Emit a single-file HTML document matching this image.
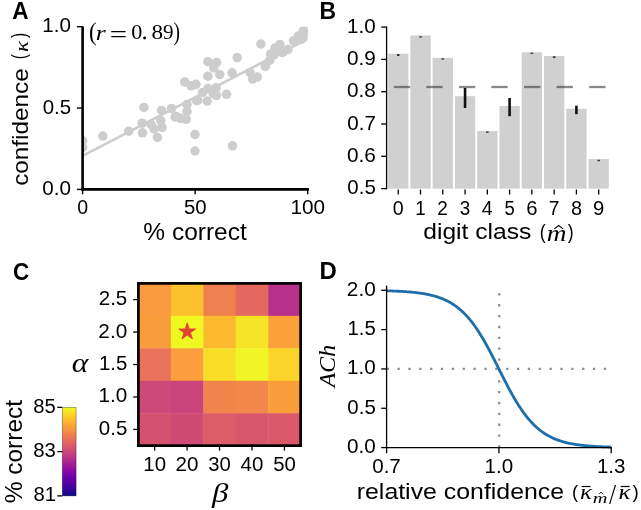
<!DOCTYPE html>
<html><head><meta charset="utf-8"><style>
html,body{margin:0;padding:0;background:#fff;}
svg{display:block;will-change:transform;}
text{font-kerning:none;}
</style></head><body>
<svg width="641" height="510" viewBox="0 0 641 510">
<rect width="641" height="510" fill="#fff"/>
<text transform="translate(12.34,18.90) scale(0.9803,1)" font-size="23.11" fill="#000"><tspan font-family="Liberation Sans, sans-serif" font-weight="bold" font-style="normal">A</tspan></text>
<defs><clipPath id="clipA"><rect x="82.6" y="26.7" width="225.1" height="162.7"/></clipPath></defs>
<g clip-path="url(#clipA)">
<line x1="82.60" y1="155.90" x2="307.70" y2="38.90" stroke="#cdcdcd" stroke-width="2.6" />
<g fill="#cdcdcd">
<circle cx="82.6" cy="140.6" r="4.75"/>
<circle cx="82.6" cy="147.5" r="4.75"/>
<circle cx="102.8" cy="136.1" r="4.75"/>
<circle cx="128.8" cy="131.2" r="4.75"/>
<circle cx="143.9" cy="107.4" r="4.75"/>
<circle cx="142.2" cy="123.2" r="4.75"/>
<circle cx="142.5" cy="132.8" r="4.75"/>
<circle cx="157.4" cy="137.5" r="4.75"/>
<circle cx="151.0" cy="124.3" r="4.75"/>
<circle cx="154.1" cy="129.0" r="4.75"/>
<circle cx="160.8" cy="120.8" r="4.75"/>
<circle cx="162.0" cy="127.5" r="4.75"/>
<circle cx="161.6" cy="110.4" r="4.75"/>
<circle cx="171.5" cy="108.5" r="4.75"/>
<circle cx="176.0" cy="116.5" r="4.75"/>
<circle cx="175.2" cy="117.0" r="4.75"/>
<circle cx="187.0" cy="104.4" r="4.75"/>
<circle cx="187.0" cy="111.5" r="4.75"/>
<circle cx="186.2" cy="119.3" r="4.75"/>
<circle cx="184.7" cy="81.9" r="4.75"/>
<circle cx="191.1" cy="85.8" r="4.75"/>
<circle cx="196.0" cy="84.3" r="4.75"/>
<circle cx="207.9" cy="61.7" r="4.75"/>
<circle cx="216.6" cy="62.5" r="4.75"/>
<circle cx="213.8" cy="67.9" r="4.75"/>
<circle cx="219.7" cy="74.6" r="4.75"/>
<circle cx="207.9" cy="76.2" r="4.75"/>
<circle cx="232.1" cy="72.8" r="4.75"/>
<circle cx="237.2" cy="57.6" r="4.75"/>
<circle cx="207.9" cy="88.6" r="4.75"/>
<circle cx="202.5" cy="92.5" r="4.75"/>
<circle cx="197.8" cy="100.3" r="4.75"/>
<circle cx="207.2" cy="101.1" r="4.75"/>
<circle cx="216.5" cy="95.6" r="4.75"/>
<circle cx="226.6" cy="94.3" r="4.75"/>
<circle cx="196.4" cy="100.5" r="4.75"/>
<circle cx="213.1" cy="93.6" r="4.75"/>
<circle cx="216.1" cy="87.7" r="4.75"/>
<circle cx="195.0" cy="134.5" r="4.75"/>
<circle cx="195.0" cy="151.0" r="4.75"/>
<circle cx="232.5" cy="145.8" r="4.75"/>
<circle cx="260.9" cy="44.0" r="4.75"/>
<circle cx="252.6" cy="79.1" r="4.75"/>
<circle cx="257.4" cy="77.1" r="4.75"/>
<circle cx="250.0" cy="72.5" r="4.75"/>
<circle cx="265.3" cy="66.5" r="4.75"/>
<circle cx="269.7" cy="60.3" r="4.75"/>
<circle cx="270.6" cy="54.1" r="4.75"/>
<circle cx="275.0" cy="48.0" r="4.75"/>
<circle cx="279.9" cy="44.5" r="4.75"/>
<circle cx="282.1" cy="52.4" r="4.75"/>
<circle cx="288.0" cy="49.5" r="4.75"/>
<circle cx="283.3" cy="51.8" r="4.75"/>
<circle cx="273.9" cy="55.0" r="4.75"/>
<circle cx="293.5" cy="40.8" r="4.75"/>
<circle cx="298.2" cy="36.1" r="4.75"/>
<circle cx="303.0" cy="31.4" r="4.75"/>
<circle cx="304.5" cy="29.1" r="4.75"/>
<circle cx="306.0" cy="34.0" r="4.75"/>
<circle cx="180.5" cy="118.3" r="4.75"/>
<circle cx="301.5" cy="39.2" r="4.75"/>
</g></g>
<line x1="82.60" y1="26.40" x2="82.60" y2="190.70" stroke="#000" stroke-width="2.6" />
<line x1="81.30" y1="189.40" x2="308.90" y2="189.40" stroke="#000" stroke-width="2.6" />
<line x1="76.90" y1="189.40" x2="82.60" y2="189.40" stroke="#000" stroke-width="1.4" />
<text transform="translate(42.27,194.90) scale(1.0234,1)" font-size="20.20" fill="#000"><tspan font-family="Liberation Sans, sans-serif" font-weight="normal" font-style="normal">0.0</tspan></text>
<line x1="76.90" y1="108.05" x2="82.60" y2="108.05" stroke="#000" stroke-width="1.4" />
<text transform="translate(42.67,113.55) scale(1.0109,1)" font-size="20.20" fill="#000"><tspan font-family="Liberation Sans, sans-serif" font-weight="normal" font-style="normal">0.5</tspan></text>
<line x1="76.90" y1="26.70" x2="82.60" y2="26.70" stroke="#000" stroke-width="1.4" />
<text transform="translate(42.33,32.20) scale(1.0214,1)" font-size="20.20" fill="#000"><tspan font-family="Liberation Sans, sans-serif" font-weight="normal" font-style="normal">1.0</tspan></text>
<line x1="82.60" y1="189.40" x2="82.60" y2="194.30" stroke="#000" stroke-width="1.4" />
<text transform="translate(77.14,214.30) scale(0.9640,1)" font-size="20.34" fill="#000"><tspan font-family="Liberation Sans, sans-serif" font-weight="normal" font-style="normal">0</tspan></text>
<line x1="195.15" y1="189.40" x2="195.15" y2="194.30" stroke="#000" stroke-width="1.4" />
<text transform="translate(183.94,214.30) scale(0.9992,1)" font-size="20.34" fill="#000"><tspan font-family="Liberation Sans, sans-serif" font-weight="normal" font-style="normal">50</tspan></text>
<line x1="307.70" y1="189.40" x2="307.70" y2="194.30" stroke="#000" stroke-width="1.4" />
<text transform="translate(290.41,214.30) scale(1.0200,1)" font-size="20.34" fill="#000"><tspan font-family="Liberation Sans, sans-serif" font-weight="normal" font-style="normal">100</tspan></text>
<text transform="translate(143.33,240.28) scale(1.0640,1)" font-size="23.02" fill="#000"><tspan font-family="Liberation Sans, sans-serif" font-weight="normal" font-style="normal">% correct</tspan></text>
<g transform="rotate(-90)">
<text transform="translate(-185.83,27.98) scale(1.0757,1)" font-size="22.60" fill="#000"><tspan font-family="Liberation Sans, sans-serif" font-weight="normal" font-style="normal">confidence</tspan></text>
<text transform="translate(-59.26,26.47) scale(0.7745,1)" font-size="19.96" fill="#000"><tspan font-family="Liberation Sans, sans-serif" font-weight="normal" font-style="normal">(</tspan></text>
<text transform="translate(-52.04,27.80) scale(1.1945,1)" font-size="19.17" fill="#000"><tspan font-family="Liberation Serif, serif" font-weight="normal" font-style="italic">κ</tspan></text>
<text transform="translate(-37.99,26.47) scale(0.7745,1)" font-size="19.96" fill="#000"><tspan font-family="Liberation Sans, sans-serif" font-weight="normal" font-style="normal">)</tspan></text>
</g>
<text transform="translate(88.90,39.86) scale(0.9431,1)" font-size="24.15" fill="#000"><tspan font-family="Liberation Serif, serif" font-weight="normal" font-style="normal">(</tspan></text>
<text transform="translate(95.86,39.50) scale(1.1711,1)" font-size="21.86" fill="#000"><tspan font-family="Liberation Serif, serif" font-weight="normal" font-style="italic">r</tspan></text>
<text transform="translate(109.86,41.69) scale(1.3113,1)" font-size="23.60" fill="#000"><tspan font-family="Liberation Serif, serif" font-weight="normal" font-style="normal">=</tspan></text>
<text transform="translate(131.16,39.39) scale(1.0322,1)" font-size="21.49" fill="#000"><tspan font-family="Liberation Serif, serif" font-weight="normal" font-style="normal">0</tspan></text>
<text transform="translate(151.42,39.39) scale(1.0761,1)" font-size="21.49" fill="#000"><tspan font-family="Liberation Serif, serif" font-weight="normal" font-style="normal">8</tspan></text>
<text transform="translate(162.92,39.39) scale(0.9772,1)" font-size="21.58" fill="#000"><tspan font-family="Liberation Serif, serif" font-weight="normal" font-style="normal">9</tspan></text>
<circle cx="144.6" cy="38.0" r="1.45" fill="#000"/>
<text transform="translate(173.57,39.86) scale(0.8060,1)" font-size="24.15" fill="#000"><tspan font-family="Liberation Serif, serif" font-weight="normal" font-style="normal">)</tspan></text>
<text transform="translate(319.56,18.90) scale(0.9871,1)" font-size="23.26" fill="#000"><tspan font-family="Liberation Sans, sans-serif" font-weight="bold" font-style="normal">B</tspan></text>
<rect x="388.10" y="53.7" width="20.3" height="134.90" fill="#d0d0d0"/>
<rect x="410.37" y="35.5" width="20.3" height="153.10" fill="#d0d0d0"/>
<rect x="432.64" y="57.8" width="20.3" height="130.80" fill="#d0d0d0"/>
<rect x="454.91" y="96.2" width="20.3" height="92.40" fill="#d0d0d0"/>
<rect x="477.18" y="131" width="20.3" height="57.60" fill="#d0d0d0"/>
<rect x="499.45" y="106" width="20.3" height="82.60" fill="#d0d0d0"/>
<rect x="521.72" y="52.2" width="20.3" height="136.40" fill="#d0d0d0"/>
<rect x="543.99" y="56" width="20.3" height="132.60" fill="#d0d0d0"/>
<rect x="566.26" y="108.7" width="20.3" height="79.90" fill="#d0d0d0"/>
<rect x="588.53" y="159" width="20.3" height="29.60" fill="#d0d0d0"/>
<line x1="393.90" y1="87.00" x2="410.20" y2="87.00" stroke="#333333" stroke-width="2.3" stroke-opacity="0.58"/>
<line x1="426.30" y1="87.00" x2="442.60" y2="87.00" stroke="#333333" stroke-width="2.3" stroke-opacity="0.58"/>
<line x1="458.90" y1="87.00" x2="475.20" y2="87.00" stroke="#333333" stroke-width="2.3" stroke-opacity="0.58"/>
<line x1="491.40" y1="87.00" x2="507.70" y2="87.00" stroke="#333333" stroke-width="2.3" stroke-opacity="0.58"/>
<line x1="524.00" y1="87.00" x2="540.30" y2="87.00" stroke="#333333" stroke-width="2.3" stroke-opacity="0.58"/>
<line x1="556.60" y1="87.00" x2="572.90" y2="87.00" stroke="#333333" stroke-width="2.3" stroke-opacity="0.58"/>
<line x1="589.20" y1="87.00" x2="605.50" y2="87.00" stroke="#333333" stroke-width="2.3" stroke-opacity="0.58"/>
<line x1="398.25" y1="54.00" x2="398.25" y2="56.00" stroke="#3a3a3a" stroke-width="2.6" />
<line x1="420.52" y1="36.20" x2="420.52" y2="37.60" stroke="#3a3a3a" stroke-width="2.6" />
<line x1="442.79" y1="58.20" x2="442.79" y2="59.60" stroke="#3a3a3a" stroke-width="2.6" />
<line x1="465.06" y1="88.00" x2="465.06" y2="108.00" stroke="#111" stroke-width="2.6" />
<line x1="487.33" y1="131.50" x2="487.33" y2="132.90" stroke="#3a3a3a" stroke-width="2.6" />
<line x1="509.60" y1="98.00" x2="509.60" y2="116.20" stroke="#111" stroke-width="2.6" />
<line x1="531.87" y1="52.60" x2="531.87" y2="54.00" stroke="#3a3a3a" stroke-width="2.6" />
<line x1="554.14" y1="56.20" x2="554.14" y2="58.00" stroke="#3a3a3a" stroke-width="2.6" />
<line x1="576.41" y1="105.70" x2="576.41" y2="114.20" stroke="#111" stroke-width="2.6" />
<line x1="598.68" y1="159.80" x2="598.68" y2="161.20" stroke="#3a3a3a" stroke-width="2.6" />
<line x1="386.60" y1="26.50" x2="386.60" y2="189.20" stroke="#000" stroke-width="1.3" />
<line x1="381.20" y1="188.60" x2="386.60" y2="188.60" stroke="#000" stroke-width="1.3" />
<text transform="translate(347.37,194.10) scale(1.0109,1)" font-size="20.20" fill="#000"><tspan font-family="Liberation Sans, sans-serif" font-weight="normal" font-style="normal">0.5</tspan></text>
<line x1="381.20" y1="156.30" x2="386.60" y2="156.30" stroke="#000" stroke-width="1.3" />
<text transform="translate(346.91,161.80) scale(1.0296,1)" font-size="20.20" fill="#000"><tspan font-family="Liberation Sans, sans-serif" font-weight="normal" font-style="normal">0.6</tspan></text>
<line x1="381.20" y1="124.00" x2="386.60" y2="124.00" stroke="#000" stroke-width="1.3" />
<text transform="translate(347.33,129.50) scale(1.0187,1)" font-size="20.20" fill="#000"><tspan font-family="Liberation Sans, sans-serif" font-weight="normal" font-style="normal">0.7</tspan></text>
<line x1="381.20" y1="91.70" x2="386.60" y2="91.70" stroke="#000" stroke-width="1.3" />
<text transform="translate(347.01,97.20) scale(1.0254,1)" font-size="20.20" fill="#000"><tspan font-family="Liberation Sans, sans-serif" font-weight="normal" font-style="normal">0.8</tspan></text>
<line x1="381.20" y1="59.40" x2="386.60" y2="59.40" stroke="#000" stroke-width="1.3" />
<text transform="translate(347.04,64.90) scale(1.0271,1)" font-size="20.20" fill="#000"><tspan font-family="Liberation Sans, sans-serif" font-weight="normal" font-style="normal">0.9</tspan></text>
<line x1="381.20" y1="27.10" x2="386.60" y2="27.10" stroke="#000" stroke-width="1.3" />
<text transform="translate(347.03,32.60) scale(1.0214,1)" font-size="20.20" fill="#000"><tspan font-family="Liberation Sans, sans-serif" font-weight="normal" font-style="normal">1.0</tspan></text>
<line x1="398.25" y1="189.60" x2="398.25" y2="194.50" stroke="#000" stroke-width="1.3" />
<text transform="translate(392.79,214.50) scale(0.9640,1)" font-size="20.34" fill="#000"><tspan font-family="Liberation Sans, sans-serif" font-weight="normal" font-style="normal">0</tspan></text>
<line x1="420.52" y1="189.60" x2="420.52" y2="194.50" stroke="#000" stroke-width="1.3" />
<text transform="translate(415.22,214.70) scale(0.8947,1)" font-size="20.93" fill="#000"><tspan font-family="Liberation Sans, sans-serif" font-weight="normal" font-style="normal">1</tspan></text>
<line x1="442.79" y1="189.60" x2="442.79" y2="194.50" stroke="#000" stroke-width="1.3" />
<text transform="translate(437.28,214.70) scale(0.9164,1)" font-size="20.62" fill="#000"><tspan font-family="Liberation Sans, sans-serif" font-weight="normal" font-style="normal">2</tspan></text>
<line x1="465.06" y1="189.60" x2="465.06" y2="194.50" stroke="#000" stroke-width="1.3" />
<text transform="translate(459.84,214.50) scale(0.9258,1)" font-size="20.34" fill="#000"><tspan font-family="Liberation Sans, sans-serif" font-weight="normal" font-style="normal">3</tspan></text>
<line x1="487.33" y1="189.60" x2="487.33" y2="194.50" stroke="#000" stroke-width="1.3" />
<text transform="translate(481.87,214.70) scale(0.9369,1)" font-size="20.93" fill="#000"><tspan font-family="Liberation Sans, sans-serif" font-weight="normal" font-style="normal">4</tspan></text>
<line x1="509.60" y1="189.60" x2="509.60" y2="194.50" stroke="#000" stroke-width="1.3" />
<text transform="translate(504.38,214.50) scale(0.8966,1)" font-size="20.64" fill="#000"><tspan font-family="Liberation Sans, sans-serif" font-weight="normal" font-style="normal">5</tspan></text>
<line x1="531.87" y1="189.60" x2="531.87" y2="194.50" stroke="#000" stroke-width="1.3" />
<text transform="translate(526.22,214.50) scale(0.9977,1)" font-size="20.34" fill="#000"><tspan font-family="Liberation Sans, sans-serif" font-weight="normal" font-style="normal">6</tspan></text>
<line x1="554.14" y1="189.60" x2="554.14" y2="194.50" stroke="#000" stroke-width="1.3" />
<text transform="translate(548.77,214.70) scale(0.9163,1)" font-size="20.93" fill="#000"><tspan font-family="Liberation Sans, sans-serif" font-weight="normal" font-style="normal">7</tspan></text>
<line x1="576.41" y1="189.60" x2="576.41" y2="194.50" stroke="#000" stroke-width="1.3" />
<text transform="translate(570.89,214.50) scale(0.9745,1)" font-size="20.34" fill="#000"><tspan font-family="Liberation Sans, sans-serif" font-weight="normal" font-style="normal">8</tspan></text>
<line x1="598.68" y1="189.60" x2="598.68" y2="194.50" stroke="#000" stroke-width="1.3" />
<text transform="translate(592.99,214.50) scale(0.9957,1)" font-size="20.34" fill="#000"><tspan font-family="Liberation Sans, sans-serif" font-weight="normal" font-style="normal">9</tspan></text>
<text transform="translate(423.27,239.49) scale(1.1593,1)" font-size="21.24" fill="#000"><tspan font-family="Liberation Sans, sans-serif" font-weight="normal" font-style="normal">digit class</tspan></text>
<text transform="translate(539.80,238.70) scale(0.8738,1)" font-size="20.29" fill="#000"><tspan font-family="Liberation Sans, sans-serif" font-weight="normal" font-style="normal">(</tspan></text>
<text transform="translate(546.71,240.70) scale(1.2263,1)" font-size="22.28" fill="#000"><tspan font-family="Liberation Serif, serif" font-weight="normal" font-style="italic">m</tspan></text>
<path d="M554.3,228.9 L558.7,225.5 L563.1,228.9" fill="none" stroke="#000" stroke-width="1.1"/>
<text transform="translate(567.80,238.70) scale(0.8738,1)" font-size="20.29" fill="#000"><tspan font-family="Liberation Sans, sans-serif" font-weight="normal" font-style="normal">)</tspan></text>
<text transform="translate(12.98,279.67) scale(0.9532,1)" font-size="23.59" fill="#000"><tspan font-family="Liberation Sans, sans-serif" font-weight="bold" font-style="normal">C</tspan></text>
<rect x="138.40" y="283.40" width="32.85" height="32.85" fill="#f99b3e"/>
<rect x="170.85" y="283.40" width="32.85" height="32.85" fill="#fcc22c"/>
<rect x="203.30" y="283.40" width="32.85" height="32.85" fill="#ee8050"/>
<rect x="235.75" y="283.40" width="32.85" height="32.85" fill="#e4685e"/>
<rect x="268.20" y="283.40" width="32.85" height="32.85" fill="#b7318a"/>
<rect x="138.40" y="315.85" width="32.85" height="32.85" fill="#f99c3c"/>
<rect x="170.85" y="315.85" width="32.85" height="32.85" fill="#f0f822"/>
<rect x="203.30" y="315.85" width="32.85" height="32.85" fill="#fdb92d"/>
<rect x="235.75" y="315.85" width="32.85" height="32.85" fill="#f5e526"/>
<rect x="268.20" y="315.85" width="32.85" height="32.85" fill="#fba13a"/>
<rect x="138.40" y="348.30" width="32.85" height="32.85" fill="#e8735a"/>
<rect x="170.85" y="348.30" width="32.85" height="32.85" fill="#fb9e3b"/>
<rect x="203.30" y="348.30" width="32.85" height="32.85" fill="#f8de27"/>
<rect x="235.75" y="348.30" width="32.85" height="32.85" fill="#f1f525"/>
<rect x="268.20" y="348.30" width="32.85" height="32.85" fill="#fad428"/>
<rect x="138.40" y="380.75" width="32.85" height="32.85" fill="#cd4977"/>
<rect x="170.85" y="380.75" width="32.85" height="32.85" fill="#c9447a"/>
<rect x="203.30" y="380.75" width="32.85" height="32.85" fill="#f0844b"/>
<rect x="235.75" y="380.75" width="32.85" height="32.85" fill="#f28749"/>
<rect x="268.20" y="380.75" width="32.85" height="32.85" fill="#fa9e3b"/>
<rect x="138.40" y="413.20" width="32.85" height="32.85" fill="#d4526f"/>
<rect x="170.85" y="413.20" width="32.85" height="32.85" fill="#cf4b75"/>
<rect x="203.30" y="413.20" width="32.85" height="32.85" fill="#dc5c67"/>
<rect x="235.75" y="413.20" width="32.85" height="32.85" fill="#d8576b"/>
<rect x="268.20" y="413.20" width="32.85" height="32.85" fill="#d9586a"/>
<rect x="138.4" y="283.4" width="162.25" height="162.25" fill="none" stroke="#000" stroke-width="2.7"/>
<polygon points="187.20,322.80 185.20,328.95 178.74,328.95 183.97,332.75 181.97,338.90 187.20,335.10 192.43,338.90 190.43,332.75 195.66,328.95 189.20,328.95" fill="#df4532" stroke="#df4532" stroke-width="0.9" stroke-linejoin="round"/>
<line x1="133.20" y1="299.62" x2="137.10" y2="299.62" stroke="#000" stroke-width="1.3" />
<text transform="translate(98.78,305.13) scale(1.0145,1)" font-size="20.20" fill="#000"><tspan font-family="Liberation Sans, sans-serif" font-weight="normal" font-style="normal">2.5</tspan></text>
<line x1="133.20" y1="332.07" x2="137.10" y2="332.07" stroke="#000" stroke-width="1.3" />
<text transform="translate(98.37,337.58) scale(1.0270,1)" font-size="20.20" fill="#000"><tspan font-family="Liberation Sans, sans-serif" font-weight="normal" font-style="normal">2.0</tspan></text>
<line x1="133.20" y1="364.52" x2="137.10" y2="364.52" stroke="#000" stroke-width="1.3" />
<text transform="translate(98.94,370.02) scale(0.9940,1)" font-size="20.49" fill="#000"><tspan font-family="Liberation Sans, sans-serif" font-weight="normal" font-style="normal">1.5</tspan></text>
<line x1="133.20" y1="396.98" x2="137.10" y2="396.98" stroke="#000" stroke-width="1.3" />
<text transform="translate(98.53,402.48) scale(1.0214,1)" font-size="20.20" fill="#000"><tspan font-family="Liberation Sans, sans-serif" font-weight="normal" font-style="normal">1.0</tspan></text>
<line x1="133.20" y1="429.42" x2="137.10" y2="429.42" stroke="#000" stroke-width="1.3" />
<text transform="translate(98.87,434.93) scale(1.0109,1)" font-size="20.20" fill="#000"><tspan font-family="Liberation Sans, sans-serif" font-weight="normal" font-style="normal">0.5</tspan></text>
<line x1="154.62" y1="446.95" x2="154.62" y2="450.60" stroke="#000" stroke-width="1.3" />
<text transform="translate(143.28,470.60) scale(1.0054,1)" font-size="20.34" fill="#000"><tspan font-family="Liberation Sans, sans-serif" font-weight="normal" font-style="normal">10</tspan></text>
<line x1="187.08" y1="446.95" x2="187.08" y2="450.60" stroke="#000" stroke-width="1.3" />
<text transform="translate(175.57,470.60) scale(1.0127,1)" font-size="20.34" fill="#000"><tspan font-family="Liberation Sans, sans-serif" font-weight="normal" font-style="normal">20</tspan></text>
<line x1="219.53" y1="446.95" x2="219.53" y2="450.60" stroke="#000" stroke-width="1.3" />
<text transform="translate(208.33,470.60) scale(0.9982,1)" font-size="20.34" fill="#000"><tspan font-family="Liberation Sans, sans-serif" font-weight="normal" font-style="normal">30</tspan></text>
<line x1="251.98" y1="446.95" x2="251.98" y2="450.60" stroke="#000" stroke-width="1.3" />
<text transform="translate(240.58,470.60) scale(1.0076,1)" font-size="20.34" fill="#000"><tspan font-family="Liberation Sans, sans-serif" font-weight="normal" font-style="normal">40</tspan></text>
<line x1="284.43" y1="446.95" x2="284.43" y2="450.60" stroke="#000" stroke-width="1.3" />
<text transform="translate(273.21,470.60) scale(0.9992,1)" font-size="20.34" fill="#000"><tspan font-family="Liberation Sans, sans-serif" font-weight="normal" font-style="normal">50</tspan></text>
<text transform="translate(71.66,371.62) scale(1.1736,1)" font-size="26.97" fill="#000"><tspan font-family="Liberation Serif, serif" font-weight="normal" font-style="italic">α</tspan></text>
<text transform="translate(211.93,501.53) scale(1.1947,1)" font-size="27.59" fill="#000"><tspan font-family="Liberation Serif, serif" font-weight="normal" font-style="italic">β</tspan></text>
<defs><linearGradient id="plasma" x1="0" y1="1" x2="0" y2="0"><stop offset="0.0" stop-color="#0d0887"/><stop offset="0.1" stop-color="#41049d"/><stop offset="0.2" stop-color="#6a00a8"/><stop offset="0.3" stop-color="#8f0da4"/><stop offset="0.4" stop-color="#b12a90"/><stop offset="0.5" stop-color="#cc4778"/><stop offset="0.6" stop-color="#e16462"/><stop offset="0.7" stop-color="#f2844b"/><stop offset="0.8" stop-color="#fca636"/><stop offset="0.9" stop-color="#fcce25"/><stop offset="1.0" stop-color="#f0f921"/></linearGradient></defs>
<rect x="62.3" y="407.35" width="13.8" height="88.55" fill="url(#plasma)" stroke="#000" stroke-opacity="0.45" stroke-width="0.7"/>
<line x1="57.30" y1="407.35" x2="62.20" y2="407.35" stroke="#000" stroke-width="1.3" />
<text transform="translate(33.34,412.85) scale(1.0019,1)" font-size="20.20" fill="#000"><tspan font-family="Liberation Sans, sans-serif" font-weight="normal" font-style="normal">85</tspan></text>
<line x1="57.30" y1="451.62" x2="62.20" y2="451.62" stroke="#000" stroke-width="1.3" />
<text transform="translate(33.20,457.13) scale(1.0104,1)" font-size="20.20" fill="#000"><tspan font-family="Liberation Sans, sans-serif" font-weight="normal" font-style="normal">83</tspan></text>
<line x1="57.30" y1="495.90" x2="62.20" y2="495.90" stroke="#000" stroke-width="1.3" />
<text transform="translate(33.43,501.40) scale(1.0042,1)" font-size="20.20" fill="#000"><tspan font-family="Liberation Sans, sans-serif" font-weight="normal" font-style="normal">81</tspan></text>
<g transform="rotate(-90)">
<text transform="translate(-503.37,22.37) scale(1.0270,1)" font-size="23.88" fill="#000"><tspan font-family="Liberation Sans, sans-serif" font-weight="normal" font-style="normal">% correct</tspan></text>
</g>
<text transform="translate(319.50,279.10) scale(1.0371,1)" font-size="23.11" fill="#000"><tspan font-family="Liberation Sans, sans-serif" font-weight="bold" font-style="normal">D</tspan></text>
<path d="M386.6,368.95 H611.2" stroke="#8f8f8f" stroke-width="2.3" stroke-dasharray="2.3 8.56" fill="none"/>
<path d="M499.20,447.6 V290.30" stroke="#8f8f8f" stroke-width="2.3" stroke-dasharray="2.3 8.56" fill="none"/>
<polyline points="386.60,290.82 387.54,290.85 388.47,290.88 389.41,290.90 390.34,290.93 391.28,290.96 392.22,291.00 393.15,291.03 394.09,291.07 395.02,291.10 395.96,291.14 396.89,291.18 397.83,291.23 398.77,291.27 399.70,291.32 400.64,291.37 401.57,291.42 402.51,291.47 403.45,291.53 404.38,291.59 405.32,291.65 406.25,291.71 407.19,291.78 408.12,291.85 409.06,291.93 410.00,292.01 410.93,292.09 411.87,292.18 412.80,292.27 413.74,292.36 414.68,292.46 415.61,292.56 416.55,292.67 417.48,292.78 418.42,292.90 419.35,293.03 420.29,293.16 421.23,293.29 422.16,293.44 423.10,293.59 424.03,293.74 424.97,293.91 425.91,294.08 426.84,294.26 427.78,294.44 428.71,294.64 429.65,294.84 430.58,295.06 431.52,295.28 432.46,295.52 433.39,295.76 434.33,296.02 435.26,296.29 436.20,296.57 437.14,296.86 438.07,297.16 439.01,297.48 439.94,297.81 440.88,298.16 441.81,298.52 442.75,298.90 443.69,299.30 444.62,299.71 445.56,300.14 446.49,300.58 447.43,301.05 448.37,301.54 449.30,302.04 450.24,302.57 451.17,303.12 452.11,303.69 453.04,304.28 453.98,304.90 454.92,305.54 455.85,306.20 456.79,306.90 457.72,307.61 458.66,308.36 459.60,309.13 460.53,309.94 461.47,310.77 462.40,311.63 463.34,312.52 464.27,313.44 465.21,314.39 466.15,315.38 467.08,316.40 468.02,317.45 468.95,318.53 469.89,319.65 470.83,320.80 471.76,321.98 472.70,323.20 473.63,324.45 474.57,325.74 475.50,327.06 476.44,328.42 477.38,329.81 478.31,331.23 479.25,332.68 480.18,334.17 481.12,335.69 482.06,337.24 482.99,338.82 483.93,340.42 484.86,342.06 485.80,343.72 486.73,345.41 487.67,347.12 488.61,348.86 489.54,350.61 490.48,352.39 491.41,354.18 492.35,355.99 493.28,357.82 494.22,359.65 495.16,361.50 496.09,363.36 497.03,365.22 497.96,367.08 498.90,368.95 499.84,370.82 500.77,372.68 501.71,374.54 502.64,376.40 503.58,378.25 504.51,380.08 505.45,381.91 506.39,383.72 507.32,385.51 508.26,387.29 509.19,389.04 510.13,390.78 511.07,392.49 512.00,394.18 512.94,395.84 513.87,397.48 514.81,399.08 515.75,400.66 516.68,402.21 517.62,403.73 518.55,405.22 519.49,406.67 520.42,408.09 521.36,409.48 522.30,410.84 523.23,412.16 524.17,413.45 525.10,414.70 526.04,415.92 526.98,417.10 527.91,418.25 528.85,419.37 529.78,420.45 530.72,421.50 531.65,422.52 532.59,423.51 533.53,424.46 534.46,425.38 535.40,426.27 536.33,427.13 537.27,427.96 538.21,428.77 539.14,429.54 540.08,430.29 541.01,431.00 541.95,431.70 542.88,432.36 543.82,433.00 544.76,433.62 545.69,434.21 546.63,434.78 547.56,435.33 548.50,435.86 549.43,436.36 550.37,436.85 551.31,437.32 552.24,437.76 553.18,438.19 554.11,438.60 555.05,439.00 555.99,439.38 556.92,439.74 557.86,440.09 558.79,440.42 559.73,440.74 560.67,441.04 561.60,441.33 562.54,441.61 563.47,441.88 564.41,442.14 565.34,442.38 566.28,442.62 567.22,442.84 568.15,443.06 569.09,443.26 570.02,443.46 570.96,443.64 571.89,443.82 572.83,443.99 573.77,444.16 574.70,444.31 575.64,444.46 576.57,444.61 577.51,444.74 578.45,444.87 579.38,445.00 580.32,445.12 581.25,445.23 582.19,445.34 583.13,445.44 584.06,445.54 585.00,445.63 585.93,445.72 586.87,445.81 587.80,445.89 588.74,445.97 589.68,446.05 590.61,446.12 591.55,446.19 592.48,446.25 593.42,446.31 594.36,446.37 595.29,446.43 596.23,446.48 597.16,446.53 598.10,446.58 599.03,446.63 599.97,446.67 600.91,446.72 601.84,446.76 602.78,446.80 603.71,446.83 604.65,446.87 605.59,446.90 606.52,446.94 607.46,446.97 608.39,447.00 609.33,447.02 610.26,447.05 611.20,447.08" fill="none" stroke="#1d6ea9" stroke-width="2.8"/>
<line x1="386.60" y1="285.60" x2="386.60" y2="448.25" stroke="#000" stroke-width="1.3" />
<line x1="385.95" y1="447.60" x2="611.85" y2="447.60" stroke="#000" stroke-width="1.3" />
<line x1="381.20" y1="447.60" x2="386.60" y2="447.60" stroke="#000" stroke-width="1.3" />
<text transform="translate(346.97,453.10) scale(1.0234,1)" font-size="20.20" fill="#000"><tspan font-family="Liberation Sans, sans-serif" font-weight="normal" font-style="normal">0.0</tspan></text>
<line x1="381.20" y1="408.28" x2="386.60" y2="408.28" stroke="#000" stroke-width="1.3" />
<text transform="translate(347.37,413.78) scale(1.0109,1)" font-size="20.20" fill="#000"><tspan font-family="Liberation Sans, sans-serif" font-weight="normal" font-style="normal">0.5</tspan></text>
<line x1="381.20" y1="368.95" x2="386.60" y2="368.95" stroke="#000" stroke-width="1.3" />
<text transform="translate(347.03,374.45) scale(1.0214,1)" font-size="20.20" fill="#000"><tspan font-family="Liberation Sans, sans-serif" font-weight="normal" font-style="normal">1.0</tspan></text>
<line x1="381.20" y1="329.62" x2="386.60" y2="329.62" stroke="#000" stroke-width="1.3" />
<text transform="translate(347.44,335.12) scale(0.9940,1)" font-size="20.49" fill="#000"><tspan font-family="Liberation Sans, sans-serif" font-weight="normal" font-style="normal">1.5</tspan></text>
<line x1="381.20" y1="290.30" x2="386.60" y2="290.30" stroke="#000" stroke-width="1.3" />
<text transform="translate(346.87,295.80) scale(1.0270,1)" font-size="20.20" fill="#000"><tspan font-family="Liberation Sans, sans-serif" font-weight="normal" font-style="normal">2.0</tspan></text>
<line x1="386.60" y1="447.60" x2="386.60" y2="453.20" stroke="#000" stroke-width="1.3" />
<text transform="translate(372.23,473.00) scale(1.0117,1)" font-size="20.34" fill="#000"><tspan font-family="Liberation Sans, sans-serif" font-weight="normal" font-style="normal">0.7</tspan></text>
<line x1="498.90" y1="447.60" x2="498.90" y2="453.20" stroke="#000" stroke-width="1.3" />
<text transform="translate(484.58,473.00) scale(1.0143,1)" font-size="20.34" fill="#000"><tspan font-family="Liberation Sans, sans-serif" font-weight="normal" font-style="normal">1.0</tspan></text>
<line x1="611.20" y1="447.60" x2="611.20" y2="453.20" stroke="#000" stroke-width="1.3" />
<text transform="translate(596.89,473.00) scale(1.0084,1)" font-size="20.34" fill="#000"><tspan font-family="Liberation Sans, sans-serif" font-weight="normal" font-style="normal">1.3</tspan></text>
<g transform="rotate(-90)">
<text transform="translate(-387.20,335.19) scale(1.0746,1)" font-size="22.19" fill="#000"><tspan font-family="Liberation Serif, serif" font-weight="normal" font-style="italic">ACh</tspan></text>
</g>
<text transform="translate(356.75,498.69) scale(1.1632,1)" font-size="21.38" fill="#000"><tspan font-family="Liberation Sans, sans-serif" font-weight="normal" font-style="normal">relative confidence</tspan></text>
<text transform="translate(571.95,498.34) scale(0.9673,1)" font-size="19.11" fill="#000"><tspan font-family="Liberation Sans, sans-serif" font-weight="normal" font-style="normal">(</tspan></text>
<text transform="translate(580.09,499.30) scale(1.2151,1)" font-size="20.48" fill="#000"><tspan font-family="Liberation Serif, serif" font-weight="normal" font-style="italic">κ</tspan></text>
<line x1="581.60" y1="486.50" x2="590.50" y2="486.50" stroke="#000" stroke-width="1.2" />
<text transform="translate(592.87,502.70) scale(1.4094,1)" font-size="14.43" fill="#000"><tspan font-family="Liberation Serif, serif" font-weight="normal" font-style="italic">m</tspan></text>
<path d="M599.0,494.2 L601.0,492.1 L603.0,494.2" fill="none" stroke="#000" stroke-width="0.9"/>
<text transform="translate(608.90,504.41) scale(0.8463,1)" font-size="30.20" fill="#000"><tspan font-family="Liberation Serif, serif" font-weight="normal" font-style="normal">/</tspan></text>
<text transform="translate(618.59,499.30) scale(1.2151,1)" font-size="20.48" fill="#000"><tspan font-family="Liberation Serif, serif" font-weight="normal" font-style="italic">κ</tspan></text>
<line x1="620.70" y1="486.50" x2="629.60" y2="486.50" stroke="#000" stroke-width="1.2" />
<text transform="translate(632.49,498.34) scale(0.9870,1)" font-size="19.11" fill="#000"><tspan font-family="Liberation Sans, sans-serif" font-weight="normal" font-style="normal">)</tspan></text>
</svg></body></html>
